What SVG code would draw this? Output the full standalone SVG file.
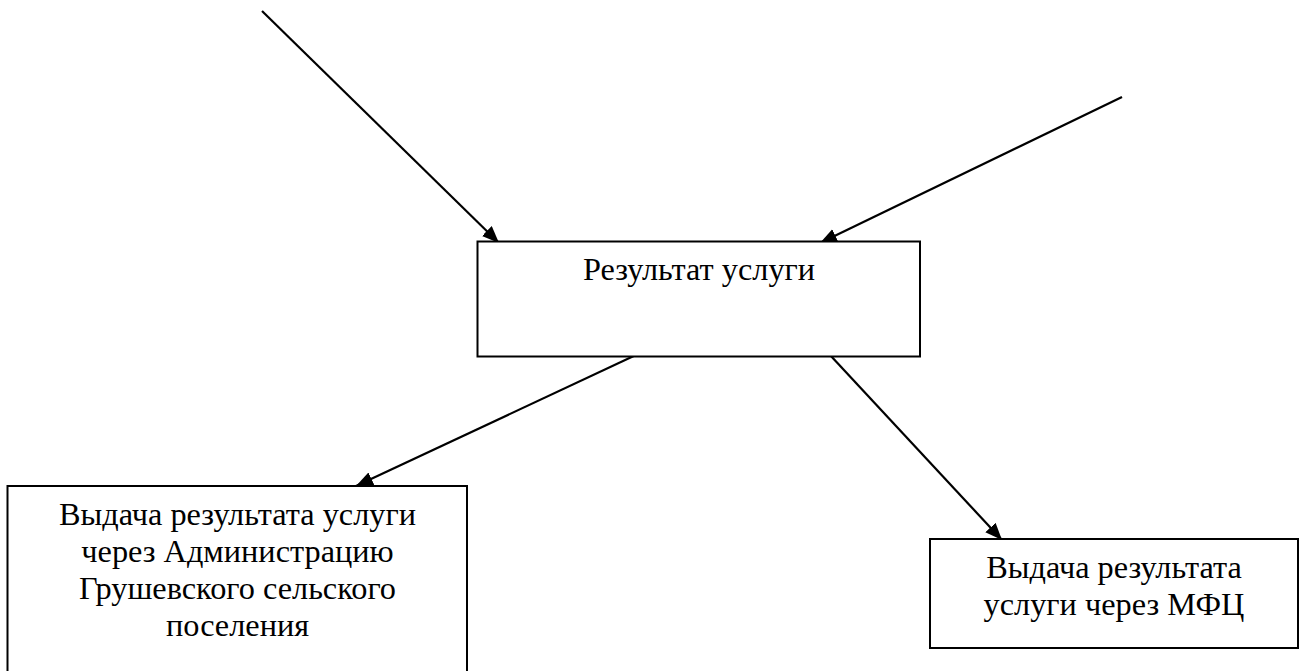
<svg xmlns="http://www.w3.org/2000/svg" width="1301" height="671" viewBox="0 0 1301 671">
  <defs>
    <style>
      .box { fill: #ffffff; stroke: #000000; stroke-width: 2; }
      .conn { stroke: #000000; stroke-width: 2.2; fill: none; marker-end: url(#arrow); }
      .lbl { font-family: "Liberation Serif", "Times New Roman", serif; font-size: 32.3px; fill: #000000; text-anchor: middle; }
    </style>
    <marker id="arrow" markerUnits="userSpaceOnUse" markerWidth="20" markerHeight="16" refX="17" refY="7" orient="auto">
      <path d="M0,0 L17,7 L0,14 z" fill="#000000"/>
    </marker>
  </defs>
  <rect width="1301" height="671" fill="#ffffff"/>
  <g id="connectors">
    <line class="conn" x1="262" y1="11" x2="499" y2="243"/>
    <line class="conn" x1="1122" y1="97" x2="820" y2="243"/>
    <line class="conn" x1="638" y1="354" x2="356" y2="486"/>
    <line class="conn" x1="830" y1="355" x2="1002" y2="540"/>
  </g>
  <g id="node-result">
    <rect class="box" x="477.5" y="241.5" width="442.5" height="115"/>
    <text class="lbl" x="699" y="280">Результат услуги</text>
  </g>
  <g id="node-admin">
    <rect class="box" x="7.5" y="486" width="459.5" height="200"/>
    <text class="lbl" x="237.5" y="525">Выдача результата услуги</text>
    <text class="lbl" x="237.5" y="562">через Администрацию</text>
    <text class="lbl" x="237.5" y="599">Грушевского сельского</text>
    <text class="lbl" x="237.5" y="636.3">поселения</text>
  </g>
  <g id="node-mfc">
    <rect class="box" x="930" y="539" width="368" height="109"/>
    <text class="lbl" x="1114" y="578">Выдача результата</text>
    <text class="lbl" x="1114" y="614.5">услуги через МФЦ</text>
  </g>
</svg>
